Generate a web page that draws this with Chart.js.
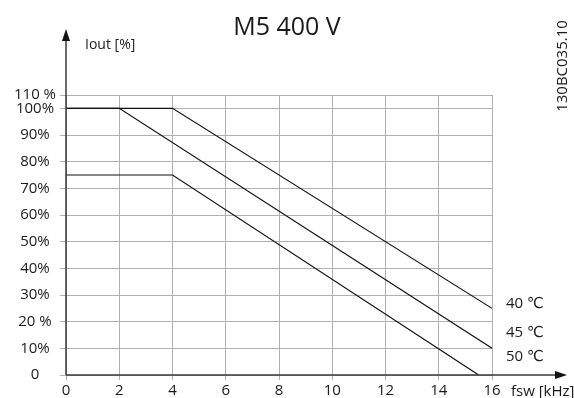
<!DOCTYPE html>
<html>
<head>
<meta charset="utf-8">
<script src="https://cdn.jsdelivr.net/npm/chart.js@4"></script>
<style>
  html, body { margin: 0; padding: 0; background: #fff; }
  #wrap { width: 574px; height: 398px; }
</style>
</head>
<body>
<div id="wrap"><canvas id="myChart" width="574" height="398"></canvas></div>
<script>
// switching frequency (kHz) and output current (%) per ambient temperature
const freq40 = [0, 4, 16];
const iout40 = [100, 100, 25];
const freq45 = [0, 2, 16];
const iout45 = [100, 100, 10];
const freq50 = [0, 4, 15.5];
const iout50 = [75, 75, 0];

const seriesNames = ["40 \u2103", "45 \u2103", "50 \u2103"];
const seriesLabelAt = [27, 16, 7]; // y value where each series name sits

// y tick positions and the text printed at them (top line is printed as 110 %)
const yTickValues = [0, 10, 20, 30, 40, 50, 60, 70, 80, 90, 100, 105];
const yTickLabels = ["0", "10%", "20 %", "30%", "40%", "50%", "60%", "70%", "80%", "90%", "100%", "110 %"];
const xTickValues = [0, 2, 4, 6, 8, 10, 12, 14, 16];

const FONT = '"Open Sans", "DejaVu Sans", sans-serif';
const TEXT = "#1a1a1a";
const GRID = "#b0b0b0";

function pts(xs, ys) {
  return xs.map((x, i) => ({ x: x, y: ys[i] }));
}

const decor = {
  id: "decor",
  afterDraw(chart) {
    const { ctx, scales } = chart;
    const x = scales.x, y = scales.y;
    const x0 = x.getPixelForValue(0);
    const y0 = y.getPixelForValue(0);
    ctx.save();

    // axes with arrows
    ctx.strokeStyle = "#3a3a3a";
    ctx.fillStyle = "#111";
    ctx.lineWidth = 1.5;
    ctx.beginPath();
    ctx.moveTo(x0, y0);
    ctx.lineTo(x0, 38);
    ctx.moveTo(x0, y0);
    ctx.lineTo(558, y0);
    ctx.stroke();
    ctx.beginPath();
    ctx.moveTo(x0, 29);
    ctx.lineTo(x0 - 4, 41);
    ctx.lineTo(x0 + 4, 41);
    ctx.closePath();
    ctx.fill();
    ctx.beginPath();
    ctx.moveTo(567, y0);
    ctx.lineTo(555, y0 - 4);
    ctx.lineTo(555, y0 + 4);
    ctx.closePath();
    ctx.fill();

    ctx.fillStyle = TEXT;
    ctx.textBaseline = "alphabetic";

    // title
    ctx.font = "25px " + FONT;
    ctx.textAlign = "center";
    ctx.fillText("M5 400 V", chart.width / 2, 35);

    // axis titles
    ctx.font = "14px " + FONT;
    ctx.textAlign = "left";
    ctx.fillText("Iout [%]", 85, 49);
    ctx.font = "15px " + FONT;
    ctx.fillText("fsw [kHz]", 511, 396);

    // series names
    const lx = x.getPixelForValue(16) + 14;
    seriesNames.forEach((name, i) => {
      ctx.fillText(name, lx, y.getPixelForValue(seriesLabelAt[i]) + 5);
    });

    // drawing number, rotated
    ctx.save();
    ctx.translate(567, 66);
    ctx.rotate(-Math.PI / 2);
    ctx.textAlign = "center";
    ctx.font = "15px " + FONT;
    ctx.fillText("130BC035.10", 0, 0);
    ctx.restore();

    ctx.restore();
  }
};

const ctx = document.getElementById("myChart");

new Chart(ctx, {
  type: "line",
  data: {
    datasets: [
      { label: seriesNames[0], data: pts(freq40, iout40) },
      { label: seriesNames[1], data: pts(freq45, iout45) },
      { label: seriesNames[2], data: pts(freq50, iout50) },
    ].map(d => Object.assign(d, {
      borderColor: "#111",
      borderWidth: 1.2,
      pointRadius: 0,
      tension: 0,
      fill: false,
    })),
  },
  options: {
    responsive: false,
    animation: false,
    devicePixelRatio: 1,
    layout: { padding: { left: 0, top: 95, right: 82, bottom: 0 } },
    plugins: {
      legend: { display: false },
      tooltip: { enabled: false },
      title: { display: false },
    },
    scales: {
      x: {
        type: "linear",
        min: 0,
        max: 16,
        afterBuildTicks: s => { s.ticks = xTickValues.map(v => ({ value: v })); },
        afterFit: s => { s.height = 23; },
        border: { display: false },
        grid: { color: GRID, lineWidth: 1, tickLength: 5, drawTicks: true },
        ticks: {
          color: TEXT,
          font: { family: FONT, size: 15 },
          padding: 2,
          maxRotation: 0,
          callback: v => String(v),
        },
      },
      y: {
        type: "linear",
        min: 0,
        max: 105,
        afterBuildTicks: s => { s.ticks = yTickValues.map(v => ({ value: v })); },
        afterFit: s => { s.width = 66; },
        border: { display: false },
        grid: { color: GRID, lineWidth: 1, tickLength: 6, drawTicks: true },
        ticks: {
          color: TEXT,
          font: { family: FONT, size: 15 },
          padding: 4,
          crossAlign: "center",
          callback: v => yTickLabels[yTickValues.indexOf(v)],
        },
      },
    },
  },
  plugins: [decor],
});
</script>
</body>
</html>
